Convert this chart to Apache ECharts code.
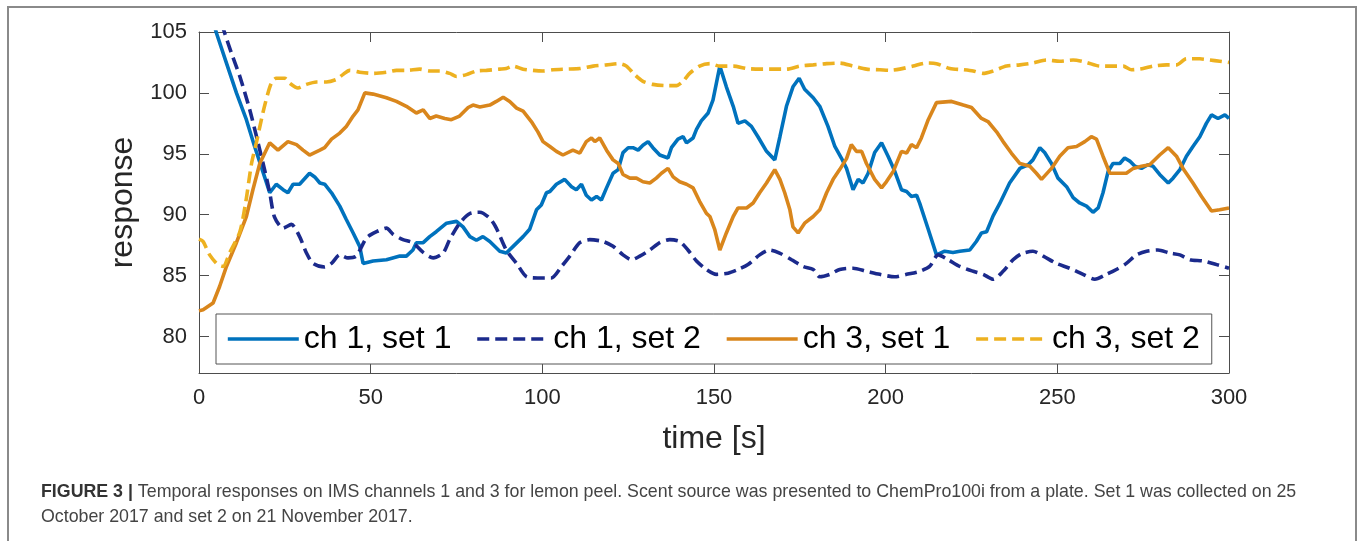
<!DOCTYPE html>
<html>
<head>
<meta charset="utf-8">
<script src="https://cdn.jsdelivr.net/npm/echarts@6/dist/echarts.min.js"></script>
<style>
html,body{margin:0;padding:0;background:#fff;}
#chart{width:1363px;height:541px;}
</style>
</head>
<body>
<div id="chart"></div>
<script>
const seriesNames = ['ch 1, set 1', 'ch 1, set 2', 'ch 3, set 1', 'ch 3, set 2'];
const xTicks = [0, 50, 100, 150, 200, 250, 300];
const yTicks = [80, 85, 90, 95, 100, 105];

const ch1Set1 = [[0,109.6],[2.5,107.4],[5.1,104.9],[8.0,102.45],[10.9,100.0],[13.8,97.8],[16.2,95.6],[19.1,93.1],[20.6,91.8],[22.5,92.5],[24.5,92.05],[25.9,91.8],[27.4,92.5],[29.3,92.5],[32.2,93.4],[33.7,93.1],[35.2,92.6],[36.6,92.5],[38.6,91.8],[41.0,90.7],[42.9,89.6],[44.9,88.5],[46.8,87.4],[47.8,86.0],[50.7,86.2],[54.6,86.3],[58.5,86.6],[60.4,86.6],[62.3,87.1],[63.3,87.7],[65.3,87.7],[67.2,88.2],[69.1,88.6],[72.1,89.3],[75.0,89.45],[76.9,89.0],[78.9,88.2],[80.8,87.9],[82.7,88.2],[84.7,87.8],[87.6,87.0],[89.5,86.85],[91.5,87.4],[94.4,88.2],[96.3,88.8],[98.3,90.4],[99.7,90.8],[101.2,91.8],[102.2,91.9],[104.1,92.5],[106.5,92.9],[108.5,92.3],[109.9,92.05],[111.4,92.5],[112.8,91.6],[114.3,91.2],[115.8,91.5],[117.2,91.2],[118.7,92.2],[120.6,93.4],[122.1,93.7],[123.5,95.1],[125.0,95.5],[126.4,95.5],[127.9,95.3],[129.3,95.7],[130.8,96.0],[132.2,95.5],[134.2,94.9],[136.6,94.65],[137.6,95.5],[139.5,96.2],[141.0,96.4],[142.0,95.9],[143.9,96.3],[144.9,97.0],[146.3,97.7],[148.3,98.35],[149.7,99.4],[151.7,102.2],[153.6,100.5],[155.6,98.9],[157.0,97.5],[159.0,97.7],[160.9,97.25],[162.8,96.4],[165.3,95.2],[167.7,94.5],[169.2,96.4],[171.1,98.9],[173.0,100.5],[174.8,101.2],[176.4,100.3],[178.9,99.6],[180.8,98.9],[183.2,97.25],[185.2,95.6],[187.1,94.65],[188.6,93.8],[190.5,92.05],[192.0,92.9],[193.4,92.6],[194.9,93.4],[196.8,95.1],[198.8,95.9],[200.7,94.8],[202.6,93.6],[204.6,92.05],[206.1,91.9],[207.5,91.5],[209.0,91.6],[209.9,90.95],[212.4,88.8],[214.8,86.7],[217.2,87.0],[219.6,86.9],[221.6,87.0],[224.5,87.1],[226.4,87.8],[227.9,88.5],[229.4,88.6],[231.3,89.9],[233.2,90.9],[236.1,92.6],[239.1,93.8],[241.5,94.1],[242.9,94.5],[244.9,95.5],[246.3,95.1],[248.3,94.2],[250.2,93.0],[252.7,92.3],[254.6,91.4],[256.5,90.96],[258.5,90.7],[260.4,90.2],[261.9,90.55],[263.3,91.8],[264.8,93.55],[266.2,94.2],[268.2,94.2],[269.6,94.65],[271.1,94.4],[272.6,93.97],[274.5,93.8],[276.4,94.1],[277.9,93.97],[279.8,93.3],[282.3,92.6],[283.7,93.0],[285.7,93.7],[287.6,94.8],[289.5,95.6],[291.5,96.4],[293.4,97.5],[294.9,98.2],[296.8,97.9],[298.8,98.2],[300,97.9]];

const ch1Set2 = [[0,111.3],[3,108.8],[7.5,104.9],[9.4,103.3],[11.9,101.35],[14.8,98.6],[17.2,95.9],[19.1,93.7],[20.6,91.8],[22.0,89.8],[24.5,88.9],[26.9,89.2],[29.3,88.2],[31.3,86.85],[33.2,86.0],[36.6,85.7],[38.6,86.0],[41.0,86.7],[43.4,86.45],[45.8,86.6],[48.8,88.1],[51.7,88.6],[54.6,88.9],[56.5,88.4],[59.4,87.95],[62.3,87.7],[65.3,86.9],[68.2,86.45],[71.1,86.85],[73.0,87.95],[75.9,89.3],[78.9,90.1],[81.8,90.2],[84.7,89.7],[86.6,88.9],[89.5,87.1],[92.5,86.0],[95.4,84.9],[98.7,84.8],[102.6,84.8],[105.6,85.75],[108.0,86.6],[110.9,87.7],[113.8,87.95],[117.7,87.8],[120.6,87.4],[123.5,86.7],[126.0,86.3],[128.4,86.6],[131.3,87.1],[134.2,87.7],[137.1,87.95],[140.0,87.8],[142.4,87.1],[144.9,86.2],[147.8,85.5],[150.7,85.1],[154.1,85.2],[157.0,85.5],[159.9,85.9],[163.3,86.7],[166.2,87.1],[169.1,86.85],[172.6,86.3],[175.9,85.75],[178.9,85.5],[180.8,84.9],[183.7,85.1],[186.6,85.5],[190.5,85.6],[194.4,85.35],[198.3,85.1],[202.6,84.9],[206.1,85.1],[209.9,85.35],[212.8,85.75],[215.3,86.7],[218.2,86.3],[221.6,85.75],[225.5,85.35],[228.4,85.1],[231.3,84.7],[234.2,85.35],[237.1,86.3],[239.6,86.8],[242.9,87.0],[245.9,86.6],[249.7,86.0],[253.6,85.6],[257.5,85.1],[260.9,84.7],[264.3,85.1],[267.2,85.5],[270.1,86.0],[273.0,86.7],[276.0,87.0],[279.3,87.1],[282.7,86.85],[285.7,86.7],[288.6,86.3],[292.5,86.2],[296.4,85.9],[300,85.6]];

const ch3Set1 = [[0,82.1],[1.2,82.2],[4.1,82.75],[6.0,84.1],[8.0,85.75],[10.9,87.7],[13.8,89.85],[15.7,92.05],[17.7,94.2],[20.6,95.9],[23.0,95.3],[25.9,96.0],[28.4,95.75],[30.3,95.3],[32.2,94.9],[35.2,95.3],[36.6,95.5],[38.6,96.2],[41.0,96.7],[42.9,97.25],[44.9,98.1],[46.3,98.6],[48.3,100.0],[50.7,99.9],[54.6,99.6],[57.5,99.3],[60.4,98.9],[63.3,98.35],[65.3,98.6],[67.2,97.9],[69.1,98.1],[71.6,97.9],[73.5,97.8],[75.9,98.1],[78.4,98.8],[79.8,99.0],[81.8,98.85],[84.7,99.0],[86.6,99.3],[88.6,99.65],[90.5,99.3],[92.5,98.75],[94.4,98.5],[96.8,97.65],[98.7,96.8],[100.2,96.0],[102.2,95.6],[104.1,95.2],[106.0,94.9],[108.9,95.3],[110.9,95.06],[112.8,96.0],[114.3,96.3],[115.3,96.0],[116.7,96.3],[118.7,95.3],[120.6,94.5],[122.1,94.2],[123.5,93.3],[125.5,93.0],[127.4,93.0],[129.3,92.7],[131.3,92.6],[133.2,93.0],[134.7,93.4],[136.6,93.8],[138.1,93.1],[140.0,92.7],[142.0,92.5],[143.9,92.2],[145.8,91.1],[147.8,90.1],[148.8,89.85],[150.2,88.8],[151.7,87.1],[153.6,88.5],[155.6,89.85],[157.0,90.55],[159.5,90.55],[161.4,90.96],[163.3,91.8],[165.3,92.6],[167.7,93.7],[169.2,92.9],[170.6,91.8],[172.1,90.4],[173.0,89.0],[174.5,88.5],[176.4,89.3],[178.9,89.85],[180.8,90.4],[182.8,91.8],[184.7,92.9],[186.6,93.7],[188.6,94.6],[190.0,95.75],[191.5,95.2],[193.0,95.2],[194.4,94.2],[196.8,92.9],[198.8,92.2],[200.2,92.7],[202.2,93.55],[204.6,95.2],[206.1,95.06],[207.5,95.75],[209.0,95.5],[210.4,96.3],[212.4,97.8],[214.8,99.2],[219.2,99.3],[222.6,99.0],[225.0,98.8],[227.9,97.9],[229.8,97.65],[232.3,96.8],[234.2,96.0],[236.6,95.06],[239.1,94.2],[242.0,93.97],[243.9,93.4],[245.4,92.9],[248.3,93.8],[250.7,94.8],[253.1,95.5],[255.6,95.6],[258.0,96.0],[259.9,96.4],[261.4,96.2],[263.3,94.8],[265.3,93.4],[268.2,93.4],[270.1,93.4],[272.1,93.8],[274.5,93.97],[276.9,94.1],[279.8,94.9],[282.3,95.5],[284.7,94.8],[286.6,93.8],[289.5,92.6],[292.0,91.5],[294.9,90.3],[297.3,90.4],[300,90.55]];

const ch3Set2 = [[0,88.0],[1.2,87.8],[3.1,86.7],[5.5,85.9],[7.0,85.75],[8.9,86.85],[11.9,88.6],[13.6,91.0],[15.3,94.2],[16.7,95.9],[18.6,98.35],[20.1,100.0],[21.1,100.8],[22.5,101.2],[25.0,101.2],[26.4,100.8],[28.8,100.4],[31.3,100.7],[34.2,100.9],[37.1,100.9],[40.0,101.1],[41.9,101.5],[43.9,101.85],[46.8,101.7],[50.7,101.6],[54.6,101.7],[57.5,101.85],[60.4,101.85],[64.3,101.95],[67.2,101.8],[70.1,101.8],[73.0,101.6],[75.0,101.35],[77.9,101.5],[80.8,101.8],[83.7,101.85],[87.6,101.95],[89.5,102.0],[91.5,102.2],[94.4,101.95],[97.3,101.85],[100.2,101.8],[103.1,101.9],[107.0,101.95],[110.9,102.0],[114.8,102.2],[118.7,102.3],[122.5,102.4],[124.5,102.2],[126.9,101.5],[129.3,100.95],[132.2,100.7],[136.1,100.6],[139.1,100.6],[141.0,100.95],[142.9,101.6],[145.8,102.2],[148.8,102.4],[151.7,102.2],[155.6,102.2],[159.5,102.0],[163.3,101.95],[167.2,101.95],[171.1,101.95],[175.0,102.2],[178.9,102.3],[182.8,102.4],[186.6,102.45],[190.5,102.2],[194.4,101.95],[198.3,101.9],[201.2,101.85],[204.1,101.95],[208.0,102.2],[211.9,102.45],[214.8,102.4],[218.7,102.0],[222.6,101.9],[225.5,101.8],[228.4,101.6],[231.3,101.8],[235.2,102.2],[239.1,102.3],[242.9,102.45],[246.8,102.7],[250.7,102.6],[254.6,102.7],[258.5,102.5],[262.4,102.2],[266.2,102.2],[269.2,102.2],[271.6,101.9],[275.0,102.0],[277.9,102.2],[281.8,102.3],[284.7,102.3],[287.6,102.8],[291.5,102.8],[294.4,102.7],[297.3,102.6],[300,102.5]];

const captionBold = 'FIGURE 3 |';
const captionLine1 = ' Temporal responses on IMS channels 1 and 3 for lemon peel. Scent source was presented to ChemPro100i from a plate. Set 1 was collected on 25';
const captionLine2 = 'October 2017 and set 2 on 21 November 2017.';

const FONT = '"Liberation Sans", Arial, Helvetica, sans-serif';
const AXC = '#4d4d4d';
const colors = ['#0072BD', '#1B2A8C', '#D9861C', '#EDB120'];

function mkSeries(name, data, color, dashed) {
  return {
    name: name, type: 'line', data: data, symbol: 'none', showSymbol: false,
    smooth: dashed ? 0.25 : false, clip: true, animation: false,
    lineStyle: { color: color, width: 3.6, type: dashed ? [12, 6] : 'solid' },
    itemStyle: { color: color }
  };
}

const chart = echarts.init(document.getElementById('chart'), null, { renderer: 'canvas' });
const tickCommon = { show: true, inside: true, length: 10, lineStyle: { color: AXC, width: 1 } };
const lineCommon = { show: true, onZero: false, lineStyle: { color: AXC, width: 1 } };
const yFmt = v => (yTicks.indexOf(v) >= 0 ? String(v) : '');

chart.setOption({
  backgroundColor: '#fff',
  animation: false,
  grid: { left: 199, right: 134, top: 32, bottom: 168, containLabel: false },
  xAxis: [
    { type: 'value', min: 0, max: 300, interval: 50, position: 'bottom',
      name: 'time [s]', nameLocation: 'middle', nameGap: 50,
      nameTextStyle: { fontSize: 32, fontFamily: FONT, color: '#262626' },
      axisLine: lineCommon, axisTick: tickCommon, splitLine: { show: false },
      axisLabel: { fontSize: 22, fontFamily: FONT, color: '#262626', margin: 14, customValues: xTicks } },
    { type: 'value', min: 0, max: 300, interval: 50, position: 'top',
      axisLine: lineCommon, axisTick: tickCommon, splitLine: { show: false },
      axisLabel: { show: false } }
  ],
  yAxis: [
    { type: 'value', min: 77, max: 105, position: 'left',
      name: 'response', nameLocation: 'middle', nameGap: 58,
      nameTextStyle: { fontSize: 32, fontFamily: FONT, color: '#262626' },
      axisLine: lineCommon,
      axisTick: Object.assign({}, tickCommon, { customValues: yTicks }),
      splitLine: { show: false },
      axisLabel: { fontSize: 22, fontFamily: FONT, color: '#262626', margin: 12, customValues: yTicks, formatter: yFmt } },
    { type: 'value', min: 77, max: 105, position: 'right',
      axisLine: lineCommon,
      axisTick: Object.assign({}, tickCommon, { customValues: yTicks }),
      splitLine: { show: false }, axisLabel: { show: false } }
  ],
  legend: {
    data: seriesNames, left: 216, top: 314, orient: 'horizontal',
    itemWidth: 71, itemHeight: 20, itemGap: 24,
    padding: [9, 12, 9, 10],
    borderColor: '#555', borderWidth: 1, backgroundColor: '#fff',
    textStyle: { fontSize: 32, fontFamily: FONT, color: '#000' },
    itemStyle: { opacity: 0, borderWidth: 0 },
    lineStyle: { width: 3.6, opacity: 1 },
    selectedMode: false
  },
  series: [
    mkSeries(seriesNames[0], ch1Set1, colors[0], false),
    mkSeries(seriesNames[1], ch1Set2, colors[1], true),
    mkSeries(seriesNames[2], ch3Set1, colors[2], false),
    mkSeries(seriesNames[3], ch3Set2, colors[3], true)
  ],
  graphic: [
    { type: 'rect', silent: true, z: -10,
      shape: { x: 8, y: 7, width: 1348, height: 560 },
      style: { fill: 'none', stroke: '#8a8a8a', lineWidth: 2 } },
    { type: 'text', left: 41, top: 483, silent: true,
      style: { text: '{b|' + captionBold + '}' + captionLine1, fontSize: 17.8, fontFamily: FONT, fill: '#444',
        rich: { b: { fontWeight: 'bold', fontSize: 17.8, fontFamily: FONT, fill: '#333', color: '#333' } } } },
    { type: 'text', left: 41, top: 508, silent: true,
      style: { text: captionLine2, fontSize: 17.8, fontFamily: FONT, fill: '#444' } }
  ]
});
</script>
</body>
</html>
